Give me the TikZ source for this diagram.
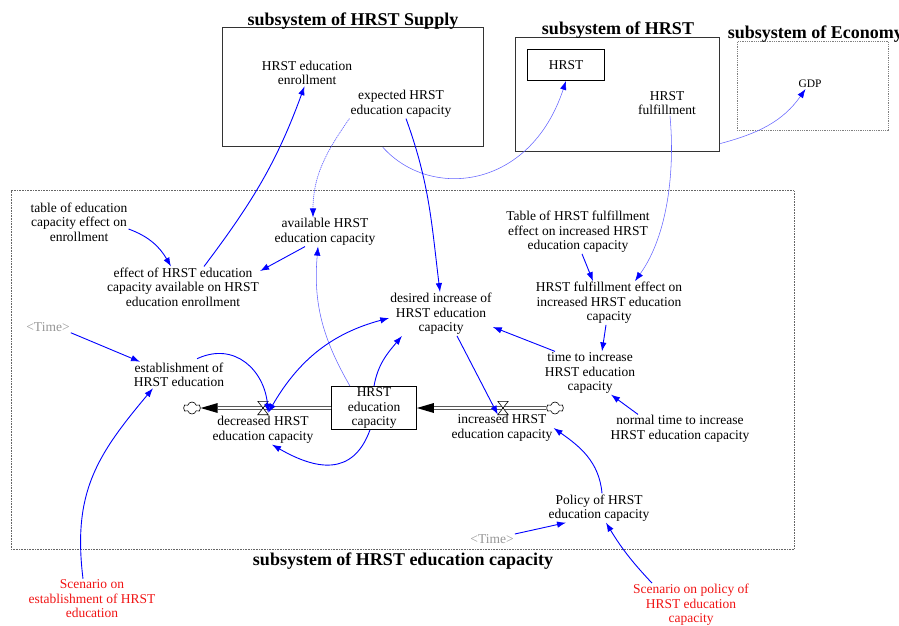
\documentclass[tikz,border=0pt]{standalone}
\usepackage{fontspec}
\setmainfont{Liberation Serif}
\usetikzlibrary{arrows.meta,shapes.symbols,calc}
\definecolor{lnk}{RGB}{0,0,255}
\definecolor{lnkweak}{RGB}{100,100,255}
\definecolor{shadowtxt}{RGB}{150,150,150}
\definecolor{redtxt}{RGB}{240,20,20}
\begin{document}
\begin{tikzpicture}[x=1pt,y=1pt,
  var/.style={align=center, font=\fontsize{13.5}{14.5}\selectfont, inner sep=1pt},
  ttl/.style={font=\fontsize{18}{20}\selectfont\bfseries, anchor=base, inner sep=0pt},
  lnkarrow/.style={draw=lnk, line width=0.9pt, -{Latex[length=9pt,width=6.5pt]}},
  weaklink/.style={draw=lnkweak, line width=0.55pt, -{Latex[length=9pt,width=6.5pt,color=lnk]}},
  pipe/.style={draw=black, double=white, double distance=1.8pt, line width=0.8pt},
  valve/.style={inner sep=0pt, minimum width=10pt, minimum height=13pt},
  cloudn/.style={cloud, cloud puffs=6, cloud ignores aspect, draw, fill=white, minimum width=17pt, minimum height=12pt, inner sep=0pt, line width=0.6pt},
  sysbox/.style={draw=black!80, line width=1pt, inner sep=0pt}
]
\useasboundingbox (0,0) rectangle (899,-625);
\clip (0,0) rectangle (899,-625);

% subsystem boxes
\node[sysbox, minimum width=261pt, minimum height=119.5pt] (supply) at (352.8,-87) {};
\node[sysbox, minimum width=204pt, minimum height=113.7pt] (hrstsys) at (617.8,-94.2) {};
\node[draw=black!50, densely dotted, line width=0.8pt, inner sep=0pt, minimum width=151.6pt, minimum height=89pt] (econ) at (813,-86.2) {};
\node[draw=black!60, densely dotted, line width=0.6pt, inner sep=0pt, minimum width=783.3pt, minimum height=358.3pt] (capsys) at (402.65,-369.85) {};

% titles
\node[ttl] (tsupply) at (353,-25) {subsystem of HRST Supply};
\node[ttl] (thrst) at (618,-34.3) {subsystem of HRST};
\node[ttl, anchor=base west] (tecon) at (727.6,-38.3) {subsystem of Economy};
\node[ttl] (tcap) at (403,-565) {subsystem of HRST education capacity};

% variables
\node[var] (enroll) at (307,-73) {HRST education\\enrollment};
\node[var] (expected) at (401,-104) {expected HRST\\education capacity};
\node[var] (fulfill) at (667,-103) {HRST\\fulfillment};
\node[var, font=\fontsize{11.5}{13}\selectfont] (gdp) at (810,-84) {GDP};
\node[var, draw, line width=0.8pt, minimum width=77pt, minimum height=31pt] (hrst) at (566,-65) {HRST};
\node[var] (tableedu) at (79,-222) {table of education\\capacity effect on\\enrollment};
\node[var] (avail) at (325,-232) {available HRST\\education capacity};
\node[var] (effect) at (183,-287) {effect of HRST education\\capacity available on HRST\\education enrollment};
\node[var] (desired) at (441,-314) {desired increase of\\HRST education\\capacity};
\node[var] (tablehr) at (578,-232) {Table of HRST fulfillment\\effect on increased HRST\\education capacity};
\node[var] (fulfeff) at (609,-303) {HRST fulfillment effect on\\increased HRST education\\capacity};
\node[var] (timeinc) at (590,-373) {time to increase\\HRST education\\capacity};
\node[var] (normal) at (680,-429) {normal time to increase\\HRST education capacity};
\node[var, text=shadowtxt] (time1) at (48,-327) {<Time>};
\node[var] (estab) at (179,-375) {establishment of\\HRST education};
\node[var] (dec) at (263,-430) {decreased HRST\\education capacity};
\node[var] (inc) at (502,-428) {increased HRST\\education capacity};
\node[var] (policy) at (599,-508) {Policy of HRST\\education capacity};
\node[var, text=shadowtxt] (time2) at (492,-539) {<Time>};
\node[var, text=redtxt] (scen1) at (92,-599) {Scenario on\\establishment of HRST\\education};
\node[var, text=redtxt] (scen2) at (691,-605) {Scenario on policy of\\HRST education\\capacity};

% stock, clouds, valves
\node[var, draw, line width=0.8pt, fill=white, inner sep=0pt, minimum width=85pt, minimum height=43pt] (stock) at (374,-408) {HRST\\education\\capacity};
\node[cloudn] (cdec) at (192,-408) {};
\node[cloudn] (cinc) at (555,-408) {};
\node[valve] (vdec) at (263,-408) {};
\node[valve] (vinc) at (503,-408) {};

% flows
\draw[pipe] (stock.west) -- ([xshift=17pt]cdec.east);
\fill (cdec.east) -- ++(17,5) -- ++(0,-10) -- cycle;
\draw[pipe] (cinc.west) -- ([xshift=17pt]stock.east);
\fill (stock.east) -- ++(17,5) -- ++(0,-10) -- cycle;
\draw[fill=white, line width=0.6pt] (vdec.north west) -- (vdec.north east) -- (vdec.south west) -- (vdec.south east) -- cycle;
\draw[fill=white, line width=0.6pt] (vinc.north west) -- (vinc.north east) -- (vinc.south west) -- (vinc.south east) -- cycle;

% weak (thin) links
\draw[weaklink, line width=0.7pt, dash pattern=on 1.2pt off 0.8pt] (expected.south west) to[out=-125,in=90] ([xshift=-12pt]avail.north);
\draw[weaklink] ([xshift=-24pt]stock.north) to[out=120,in=-95] ([xshift=-7pt]avail.south);
\draw[weaklink] ([xshift=30pt]supply.south) .. controls (430,-200) and (530,-190) .. (hrst.south);
\draw[weaklink] ([xshift=3pt]fulfill.south) .. controls (675,-170) and (668,-235) .. ([xshift=26pt]fulfeff.north);
\draw[weaklink] ([yshift=8pt]hrstsys.south east) to[out=15,in=-125] ([xshift=-4.5pt]gdp.south);

% links
\draw[lnkarrow] ([xshift=21pt]effect.north) to[out=53,in=-110] ([xshift=-2.5pt]enroll.south);
\draw[lnkarrow] ([yshift=-7pt]tableedu.east) to[out=-20,in=120] ([xshift=-12pt]effect.north);
\draw[lnkarrow] ([xshift=-20pt]avail.south) -- ([yshift=16pt]effect.east);
\draw[lnkarrow] ([xshift=5pt]expected.south) to[out=-70,in=97] ([xshift=-1pt]desired.north);
\draw[lnkarrow] ([xshift=4pt]tablehr.south) -- ([xshift=-16pt]fulfeff.north);
\draw[lnkarrow] ([xshift=-3pt]fulfeff.south) -- ([xshift=12pt]timeinc.north);
\draw[lnkarrow] ([xshift=-35pt]timeinc.north) -- ([yshift=-13pt]desired.east);
\draw[lnkarrow] ([xshift=-42pt]normal.north) -- ([xshift=21pt]timeinc.south);
\draw[lnkarrow] ([xshift=16pt]desired.south) -- (vinc.south west);
\draw[lnkarrow] (stock.north) to[out=80,in=-130] ([xshift=-39pt]desired.south);
\draw[lnkarrow, {Latex[length=9pt,width=6.5pt]}-{Latex[length=9pt,width=6.5pt]}] ([yshift=-4pt]desired.west) to[out=195,in=60] ([yshift=2pt]vdec.south east);
\draw[lnkarrow] ([xshift=18pt,yshift=3pt]estab.north) to[out=25,in=95,looseness=1.2] ([yshift=2pt]vdec.south east);
\draw[lnkarrow] (time1.south east) -- ([xshift=-39pt]estab.north);
\draw[lnkarrow] ([xshift=-4pt]stock.south) to[out=-110,in=-30,looseness=1.3] ([xshift=9pt]dec.south);
\draw[lnkarrow] ([xshift=3pt]policy.north) to[out=95,in=-35] (inc.east);
\draw[lnkarrow] ([yshift=5pt]time2.east) -- ([xshift=-33pt]policy.south);
\draw[lnkarrow] ([xshift=-39pt]scen2.north) to[bend left=6] ([xshift=7pt]policy.south);
\draw[lnkarrow] ([xshift=-9pt]scen1.north) to[out=97,in=-130,looseness=1.1] ([xshift=-26pt]estab.south);
\end{tikzpicture}
\end{document}
